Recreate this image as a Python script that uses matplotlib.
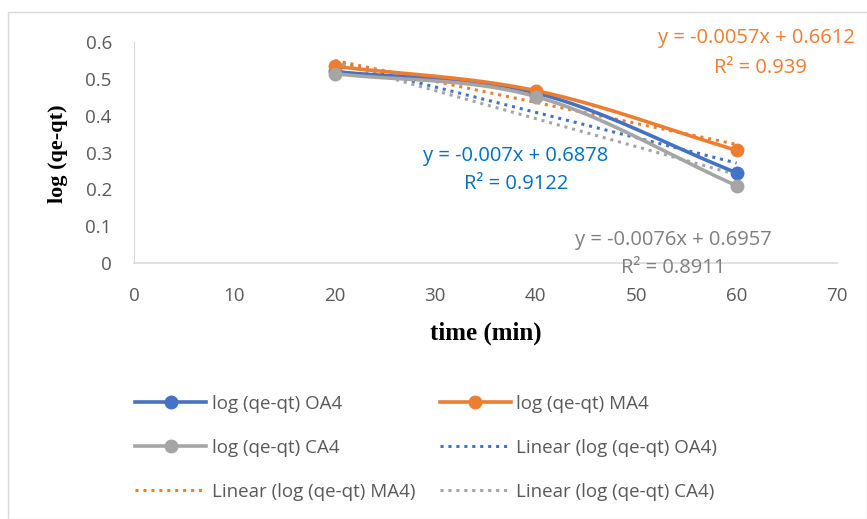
import numpy as np
import matplotlib
matplotlib.use("Agg")
import matplotlib.pyplot as plt
from matplotlib.patches import Rectangle

# data
time = [20, 40, 60]
oa4 = [0.520, 0.462, 0.245]
ma4 = [0.534, 0.468, 0.306]
ca4 = [0.514, 0.452, 0.210]

names = ["OA4", "MA4", "CA4"]
colors = ["#4472C4", "#ED7D31", "#A5A5A5"]
eq_lines = [("y = -0.007x + 0.6878", "R² = 0.9122"),
            ("y = -0.0057x + 0.6612", "R² = 0.939"),
            ("y = -0.0076x + 0.6957", "R² = 0.8911")]
eq_colors = ["#0070C0", "#ED7D31", "#7F7F7F"]

plt.rcParams['font.family'] = ['Open Sans', 'DejaVu Sans']


def smooth(x, y, n=30):
    # catmull-rom style smoothing like Excel's smoothed line
    x = np.asarray(x, float)
    y = np.asarray(y, float)
    px = np.concatenate([[2*x[0]-x[1]], x, [2*x[-1]-x[-2]]])
    py = np.concatenate([[2*y[0]-y[1]], y, [2*y[-1]-y[-2]]])
    xs, ys = [], []
    t = np.linspace(0, 1, n)
    for i in range(1, len(px)-2):
        for arr, out in ((px, xs), (py, ys)):
            p0, p1, p2, p3 = arr[i-1], arr[i], arr[i+1], arr[i+2]
            out.append(0.5*((2*p1) + (-p0+p2)*t + (2*p0-5*p1+4*p2-p3)*t**2
                            + (-p0+3*p1-3*p2+p3)*t**3))
    return np.concatenate(xs), np.concatenate(ys)


W, H = 867, 519
fig = plt.figure(figsize=(W/100, H/100), dpi=100)
ax = fig.add_axes([134/W, 1-263/H, (837-134)/W, (263-42)/H])

fig.patches.append(Rectangle((8/W, 0), 1-8/W, 1-12/H, transform=fig.transFigure,
                             fill=False, edgecolor="#D9D9D9", lw=1))

series = [oa4, ma4, ca4]
handles = []
for vals, name, c in zip(series, names, colors):
    sx, sy = smooth(time, vals)
    ax.plot(sx, sy, color=c, lw=2.6, zorder=3)
    ax.plot(time, vals, 'o', color=c, ms=9, zorder=4)
    h, = ax.plot([], [], color=c, lw=2.6, marker='o', ms=9, label="log (qe-qt) " + name)
    handles.append(h)

for vals, name, c in zip(series, names, colors):
    k, b = np.polyfit(time, vals, 1)
    xx = np.array([time[0], time[-1]])
    h, = ax.plot(xx, k*xx + b, ls=(0, (1, 1.6)), color=c, lw=2.2, zorder=2,
                 label="Linear (log (qe-qt) " + name + ")")
    handles.append(h)

ax.set_xlim(0, 70)
ax.set_ylim(0, 0.6)
ax.set_xticks(range(0, 71, 10))
ax.set_yticks(np.arange(0, 0.61, 0.1))
ax.set_yticklabels(["0", "0.1", "0.2", "0.3", "0.4", "0.5", "0.6"])
ax.tick_params(length=0, labelsize=13.5, labelcolor="#595959")
ax.tick_params(axis="y", pad=16)
ax.tick_params(axis="x", pad=17)
for s in ["top", "right"]:
    ax.spines[s].set_visible(False)
ax.spines["left"].set_color("#D9D9D9")
ax.spines["bottom"].set_color("#D9D9D9")
ax.spines["bottom"].set_linewidth(1.2)

fig.text(486/W, 1-333/H, "time (min)", family="Liberation Serif", fontweight="bold",
         fontsize=18, ha="center", va="center")
fig.text(58/W, 1-154/H, "log (qe-qt)", family="Liberation Serif", fontweight="bold",
         fontsize=16, ha="center", va="center", rotation=90)

# trendline labels, one text per line
eq_pos = [((516, 156), (516, 184)),
          ((756, 38), (760, 68)),
          ((673, 240), (673, 268))]
for (l1, l2), ((x1, y1), (x2, y2)), c in zip(eq_lines, eq_pos, eq_colors):
    fig.text(x1/W, 1-y1/H, l1, color=c, ha="center", va="center", fontsize=14.5)
    fig.text(x2/W, 1-y2/H, l2, color=c, ha="center", va="center", fontsize=14.5)

# legend fills column-wise, reorder so rows read like the original
order = [handles[0], handles[2], handles[4], handles[1], handles[3], handles[5]]
fig.legend(handles=order, loc="upper left", bbox_to_anchor=(118/W, 1-378/H), ncol=2,
           frameon=False, fontsize=13.5, labelcolor="#595959", handlelength=3.8,
           handletextpad=0.3, columnspacing=1.3, labelspacing=1.38)

fig.savefig("out.png", dpi=100)
